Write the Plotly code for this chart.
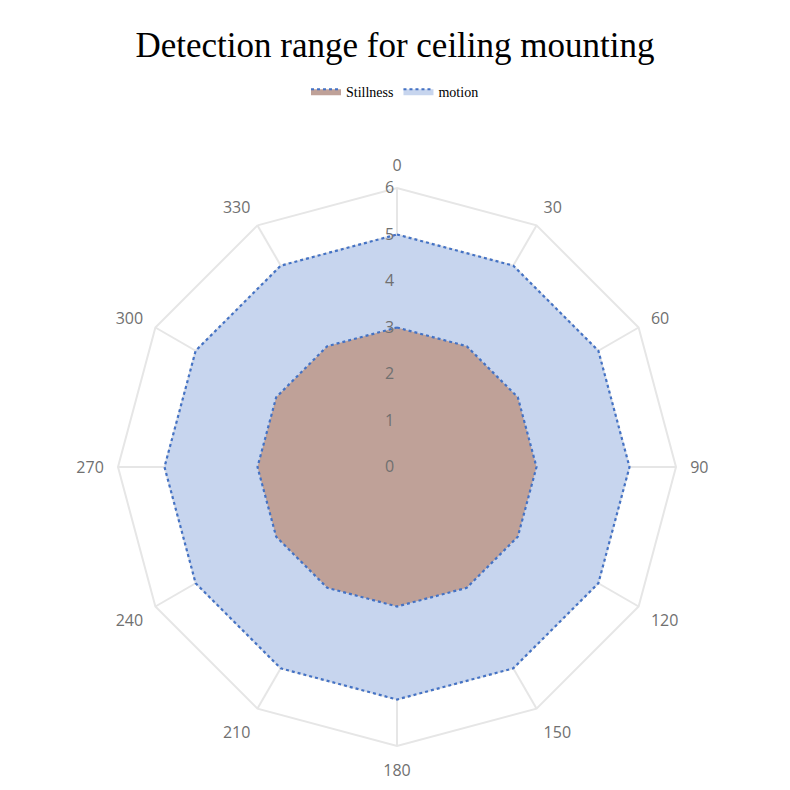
import plotly.graph_objects as go

angles = ["0", "30", "60", "90", "120", "150", "180", "210", "240", "270", "300", "330"]
stillness = [3, 3, 3, 3, 3, 3, 3, 3, 3, 3, 3, 3]
motion = [5, 5, 5, 5, 5, 5, 5, 5, 5, 5, 5, 5]
radial_ticks = [0, 1, 2, 3, 4, 5, 6]

fig = go.Figure()
fig.add_trace(go.Scatterpolar(
    r=motion + motion[:1], theta=angles + angles[:1], name="motion",
    mode="lines", fill="toself", fillcolor="rgb(199,213,238)",
    line=dict(color="#4472C4", width=2.2, dash="dot"),
))
fig.add_trace(go.Scatterpolar(
    r=stillness + stillness[:1], theta=angles + angles[:1], name="Stillness",
    mode="lines", fill="toself", fillcolor="rgb(191,161,152)",
    line=dict(color="#4472C4", width=2.2, dash="dot"),
))

fig.update_layout(
    width=790, height=790,
    paper_bgcolor="white", plot_bgcolor="white",
    margin=dict(l=0, r=0, t=0, b=0),
    title=dict(text="Detection range for ceiling mounting", x=0.5, xanchor="center",
               y=0.943, yanchor="middle",
               font=dict(family="Liberation Serif, DejaVu Serif, serif", size=35, color="black")),
    legend=dict(orientation="h", x=0.5, xanchor="center", y=0.884, yanchor="middle",
                traceorder="reversed",
                font=dict(family="Liberation Serif, serif", size=14, color="black"),
                itemwidth=30),
    polar=dict(
        domain=dict(x=[118/790, 676/790], y=[1-746/790, 1-188/790]),
        bgcolor="rgba(0,0,0,0)",
        gridshape="linear",
        angularaxis=dict(direction="clockwise", rotation=90,
                         showline=True, linecolor="#e6e6e6", linewidth=2,
                         gridcolor="#e6e6e6", gridwidth=1.5,
                         ticks="outside", ticklen=10, tickcolor="rgba(0,0,0,0)",
                         tickfont=dict(family="Open Sans, sans-serif", size=16, color="#707070")),
        radialaxis=dict(range=[0, 6], tickvals=radial_ticks, angle=90, tickangle=90,
                        side="counterclockwise",
                        showline=False, gridcolor="#e6e6e6", gridwidth=1.5,
                        ticks="", tickfont=dict(family="Open Sans, sans-serif", size=16, color="#707070"),
                        layer="above traces"),
    ),
)
fig.write_html("out.html")
